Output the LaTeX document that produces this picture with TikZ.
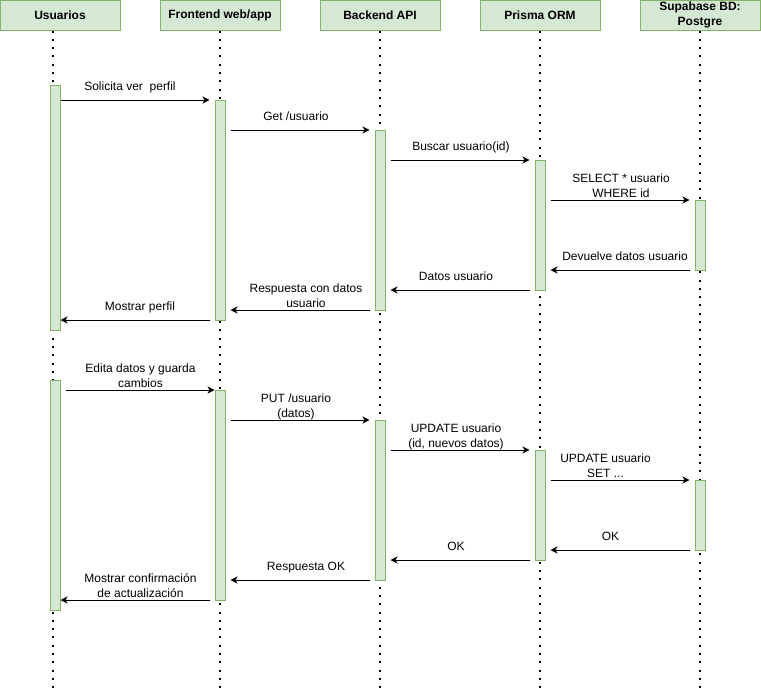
\documentclass[tikz,border=0pt]{standalone}
\usepackage{fontspec}
\setmainfont{Liberation Sans}
\usetikzlibrary{arrows.meta}

\definecolor{boxfill}{HTML}{D5E8D4}
\definecolor{boxline}{HTML}{82B366}

\tikzset{
  head/.style={draw=boxline, fill=boxfill, line width=1pt, minimum width=120pt,
    minimum height=30pt, inner sep=0pt, align=center,
    font=\bfseries\fontsize{12}{15}\selectfont},
  act/.style={draw=boxline, fill=boxfill, line width=1pt, minimum width=10pt, inner sep=0pt},
  life/.style={line width=2pt, dash pattern=on 2pt off 6.3pt},
  msg/.style={line width=1pt, -{Stealth[length=7pt,width=7pt,inset=2pt]}},
  lbl/.style={font=\fontsize{12}{15}\selectfont, align=center, inner sep=0pt},
}

\begin{document}
\begin{tikzpicture}[x=1pt, y=-1pt]
\useasboundingbox (0,0) rectangle (761,688);

% participants
\node[head] (hU) at (60,15)  {Usuarios};
\node[head] (hF) at (220,15) {Frontend web/app};
\node[head] (hB) at (380,15) {Backend API};
\node[head] (hP) at (540,15) {Prisma ORM};
\node[head] (hS) at (700,15) {Supabase BD:\\Postgre};

% lifelines
\draw[life] ([xshift=-7pt]hU.south) -- ++(0,658) coordinate (eU);
\draw[life] (hF.south) -- ++(0,658) coordinate (eF);
\draw[life] (hB.south) -- ++(0,658) coordinate (eB);
\draw[life] (hP.south) -- ++(0,658) coordinate (eP);
\draw[life] (hS.south) -- ++(0,658) coordinate (eS);

% activations: view profile
\node[act, minimum height=245pt] (u1) at (55,207.5) {};
\node[act, minimum height=220pt] (f1) at (220,210) {};
\node[act, minimum height=180pt] (b1) at (380,220) {};
\node[act, minimum height=130pt] (p1) at (540,225) {};
\node[act, minimum height=70pt]  (s1) at (700,235) {};

% activations: update profile
\node[act, minimum height=230pt] (u2) at (55,495) {};
\node[act, minimum height=210pt] (f2) at (220,495) {};
\node[act, minimum height=160pt] (b2) at (380,500) {};
\node[act, minimum height=110pt] (p2) at (540,505) {};
\node[act, minimum height=70pt]  (s2) at (700,515) {};

% message heights
\coordinate (m1) at (0,100);
\coordinate (m2) at (0,130);
\coordinate (m3) at (0,160);
\coordinate (m4) at (0,200);
\coordinate (m5) at (0,270);
\coordinate (m6) at (0,290);
\coordinate (m7) at (0,310);
\coordinate (m8) at (0,320);
\coordinate (m9) at (0,390);
\coordinate (m10) at (0,420);
\coordinate (m11) at (0,450);
\coordinate (m12) at (0,480);
\coordinate (m13) at (0,550);
\coordinate (m14) at (0,560);
\coordinate (m15) at (0,580);
\coordinate (m16) at (0,600);

% view profile
\draw[msg, shorten >=5pt] (u1.east |- m1) -- (f1.west |- m1);
\draw[msg, shorten <=5pt, shorten >=5pt] (f1.east |- m2) -- (b1.west |- m2);
\draw[msg, shorten <=5pt, shorten >=5pt] (b1.east |- m3) -- (p1.west |- m3);
\draw[msg, shorten <=5pt, shorten >=5pt] (p1.east |- m4) -- (s1.west |- m4);
\draw[msg, shorten <=5pt, shorten >=5pt] (s1.west |- m5) -- (p1.east |- m5);
\draw[msg, shorten <=5pt, shorten >=5pt] (p1.west |- m6) -- (b1.east |- m6);
\draw[msg, shorten <=5pt, shorten >=5pt] (b1.west |- m7) -- (f1.east |- m7);
\draw[msg, shorten <=5pt] (f1.west |- m8) -- (u1.east |- m8);

\node[lbl] (l1) at (130,87)  {Solicita ver \ perfil\strut};
\node[lbl] (l2) at (296,117) {Get /usuario\strut};
\node[lbl] (l3) at (461,147) {Buscar usuario(id)\strut};
\node[lbl] (l4) at (621,187) {SELECT * usuario\strut\\WHERE id\strut};
\node[lbl] (l5) at (625,257) {Devuelve datos usuario\strut};
\node[lbl] (l6) at (456,277) {Datos usuario\strut};
\node[lbl] (l7) at (306,297) {Respuesta con datos\strut\\usuario\strut};
\node[lbl] (l8) at (140,307) {Mostrar perfil\strut};

% update profile
\draw[msg, shorten <=5pt] (u2.east |- m9) -- (f2.west |- m9);
\draw[msg, shorten <=5pt, shorten >=5pt] (f2.east |- m10) -- (b2.west |- m10);
\draw[msg, shorten <=5pt, shorten >=5pt] (b2.east |- m11) -- (p2.west |- m11);
\draw[msg, shorten <=5pt, shorten >=5pt] (p2.east |- m12) -- (s2.west |- m12);
\draw[msg, shorten <=5pt, shorten >=5pt] (s2.west |- m13) -- (p2.east |- m13);
\draw[msg, shorten <=5pt, shorten >=5pt] (p2.west |- m14) -- (b2.east |- m14);
\draw[msg, shorten <=5pt, shorten >=5pt] (b2.west |- m15) -- (f2.east |- m15);
\draw[msg, shorten <=5pt] (f2.west |- m16) -- (u2.east |- m16);

\node[lbl] (l9)  at (140.5,377) {Edita datos y guarda\strut\\cambios\strut};
\node[lbl] (l10) at (296,407)   {PUT /usuario\strut\\(datos)\strut};
\node[lbl] (l11) at (456,437)   {UPDATE usuario\strut\\(id, nuevos datos)\strut};
\node[lbl] (l12) at (605.5,467) {UPDATE usuario\strut\\SET ...\strut};
\node[lbl] (l13) at (610.5,537) {OK\strut};
\node[lbl] (l14) at (456,547)   {OK\strut};
\node[lbl] (l15) at (306,567)   {Respuesta OK\strut};
\node[lbl] (l16) at (140.5,587) {Mostrar confirmación\strut\\de actualización\strut};
\end{tikzpicture}
\end{document}
